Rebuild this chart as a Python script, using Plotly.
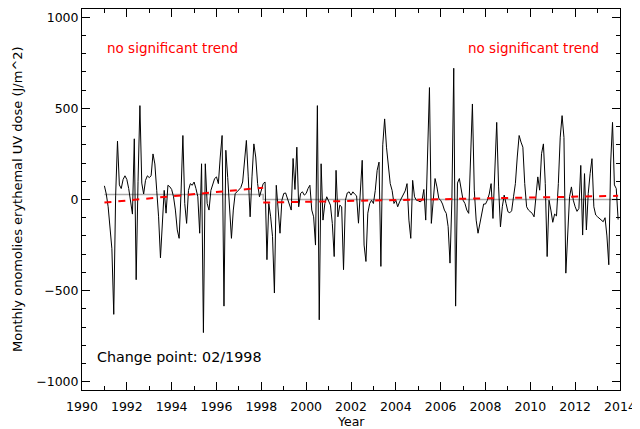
import plotly.graph_objects as go

# ---- data (monthly anomalies, Jan 1991 .. Dec 2013) ----
start_year = 1991
anomaly = [
    75, 30, -40, -150, -270, -630, 20, 320, 80, 60,
    110, 130, 110, 60, -10, -80, 333, -440, 100, 515,
    90, 30, 105, 130, 120, 130, 250, 195, 50, -95,
    -320, -95, 50, -75, 78, 70,
    55, 15, -58,
    -167, -213, 33, 351, -22, -131, 50, 87, 78, 96,
    60, 15, -185, 196, -730, 196, -22, -58, 50, 87,
    115, 124, 87, 233, 351, -585, 270, 120, -40, -213,
    -58, 33, 42, 55, 65, 96, 233, 324, 124, -95,
    124, 305, 233, 87, 15, 50, 87, 96, -330, -22,
    -95, -204, -513, 78, -58, -185, -4, 33, 36, 5,
    -22, -58, 225, 55, 287, -40, 33, 42, 24, 33,
    60, 78, -58, -95, -250, 515, -660, 196, -113, -22,
    15,
    -4, -31, -131, -313, 160, -95, -31, -40,
    -385, -4, 36, 42, 24, 42, 29, 20, -130, 80,
    215, -250, -340, -75, -22, -4, -22, 50, 160, 205,
    -367, 300, 442, 287, 178, 87, 50, -22, -4, -40,
    -13, 5, 29, 47, 87, -113, -213, 105, 15, -4,
    -7, -13, -5, 55, -113, 233, 614, -131, 5, 115,
    69, 5, -4, -25, -58, -76, -149, -349, -4, 720,
    -585, 90, 115, 51, -4, -22, -58, -76, 270, 524,
    51, -113, -185, -131, -58, -25, -25, -4, 30, 87,
    -104, 142, 423, 69, -150, -40, 24, -22, -67,
    -73, -62, 15, 87, 233, 351, 315, 287, 87, -40,
    -58, -67, -76, -95, 15, 124, 51, 251, 305, 87,
    -313, -4, -58, -125, -80, -90, 87, 342, 460, 340,
    -404, -180, 15, 69, -4, -40, -65, -49, 187, -195,
    142, -167, 33, 142, 224, -40, -85, -95, -104, -113,
    -122, -100, -200, -358, 200, 423, 80, 60, -110,
]
years = [start_year + i / 12 for i in range(len(anomaly))]

change_point = 1998 + 1 / 12          # 02/1998
series_end = years[-1]
segment_means = [27, 0]              # grey level before / after change point
trend1 = [-17, 65]                   # red fit, first segment (start, end)
trend2 = [-17, 20]                   # red fit, second segment (start, end)

x_ticks = list(range(1990, 2015, 2))
y_ticks = list(range(-1000, 1001, 500))

# ---- layout (window pixels; the page body adds an 8px offset) ----
OFF = 8
WIN_W, WIN_H = 640, 429
BOX_L, BOX_R, BOX_T, BOX_B = 82, 620, 9, 390
W, H = WIN_W - OFF, WIN_H - OFF
L = BOX_L - OFF
R = W - (BOX_R - OFF)
T = BOX_T - OFF
B = H - (BOX_B - OFF)
PW, PH = BOX_R - BOX_L, BOX_B - BOX_T


def px(x):
    return (x - BOX_L) / PW


def py(y):
    return (BOX_B - y) / PH


fig = go.Figure()
fig.add_trace(go.Scatter(
    x=[years[0], change_point, change_point, series_end],
    y=[segment_means[0], segment_means[0], segment_means[1], segment_means[1]],
    mode="lines", line=dict(color="#aaaaaa", width=1.5), hoverinfo="skip"))
fig.add_trace(go.Scatter(x=years, y=anomaly, mode="lines",
                         line=dict(color="black", width=1)))
fig.add_trace(go.Scatter(x=[years[0], change_point], y=trend1, mode="lines",
                         line=dict(color="#ff0000", width=2, dash="7px,7px")))
fig.add_trace(go.Scatter(x=[change_point, series_end], y=trend2, mode="lines",
                         line=dict(color="#ff0000", width=2, dash="7px,7px")))

axis_common = dict(
    showgrid=False, zeroline=False, showline=True, linecolor="black",
    linewidth=1, mirror="ticks", ticks="inside", ticklen=8, tickwidth=1,
    tickcolor="black", tickfont=dict(family="DejaVu Sans", size=12.5, color="black"),
)
fig.update_xaxes(range=[1990, 2014], tickvals=x_ticks, ticklabelstandoff=5,
                 minor=dict(dtick=1, ticks="inside", ticklen=4, tickcolor="black"),
                 **axis_common)
fig.update_yaxes(range=[-1045, 1045], tickvals=y_ticks,
                 tickformat="d",
                 minor=dict(dtick=100, ticks="inside", ticklen=4, tickcolor="black"),
                 **axis_common)

red_font = dict(family="DejaVu Sans", size=13.5, color="#ff0000")
ann = [
    dict(text="no significant trend", x=px(105), y=py(48), font=red_font,
         xanchor="left", yanchor="middle"),
    dict(text="no significant trend", x=px(466), y=py(48), font=red_font,
         xanchor="left", yanchor="middle"),
    dict(text="Change point: 02/1998", x=px(95), y=py(357),
         xanchor="left", yanchor="middle",
         font=dict(family="DejaVu Sans", size=14.3, color="black")),
    dict(text="Year", x=0.5, y=py(421), xanchor="center", yanchor="middle",
         font=dict(family="DejaVu Sans", size=12.5, color="black")),
    dict(text="Monthly onomolies erythemal UV dose (J/m^2)", x=px(17),
         y=py(199), xanchor="center", yanchor="middle", textangle=-90,
         font=dict(family="DejaVu Sans", size=13, color="black")),
]
for a in ann:
    a.update(xref="paper", yref="paper", showarrow=False)

fig.update_layout(
    width=W, height=H, margin=dict(l=L, r=R, t=T, b=B),
    paper_bgcolor="white", plot_bgcolor="white", showlegend=False,
    annotations=ann,
)

fig.write_html("out.html")
